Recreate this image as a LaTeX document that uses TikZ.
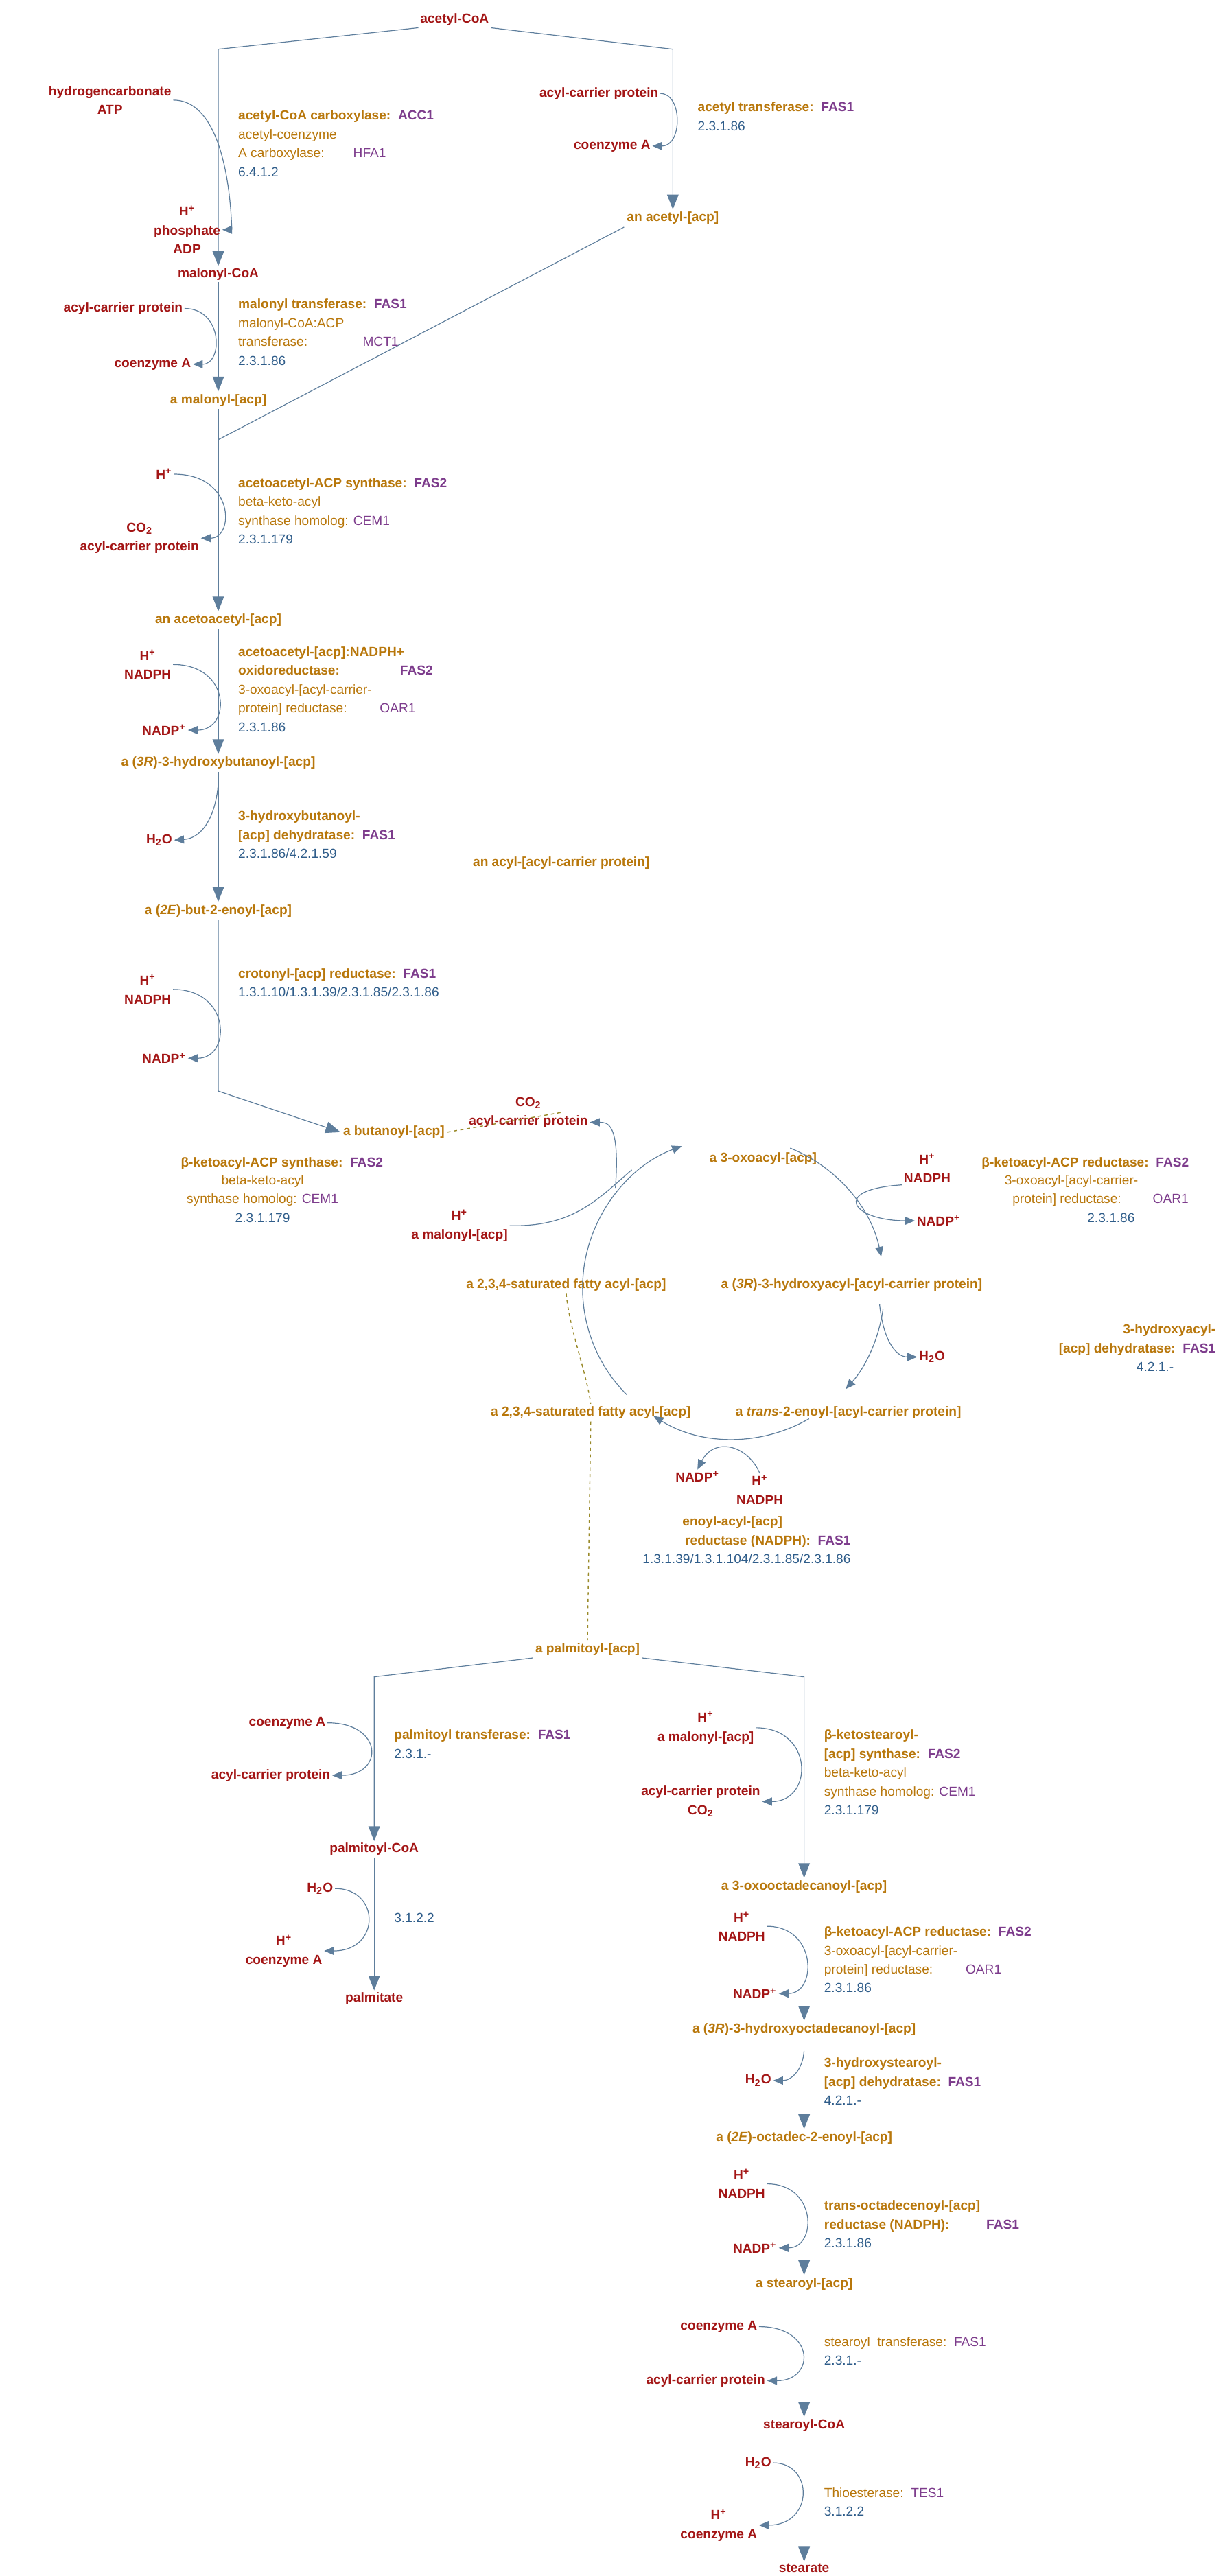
\documentclass[tikz,border=0pt]{standalone}
\usepackage{fontspec}
\setmainfont{Liberation Sans}
\usetikzlibrary{arrows.meta,calc}
\definecolor{cmpc}{HTML}{B8770B}
\definecolor{metc}{HTML}{A31515}
\definecolor{genc}{HTML}{7D3C8C}
\definecolor{ecc}{HTML}{2F5D8A}
\definecolor{linec}{HTML}{5E7E9C}
\definecolor{dashc}{HTML}{9A8A2A}
\newcommand\gn[1]{\textcolor{genc}{\textbf{#1}}}
\newcommand\gs[1]{\textcolor{genc}{#1}}
\newcommand\ec[1]{\textcolor{ecc}{#1}}
\newcommand\Hp{H\textsuperscript{+}}
\newcommand\sidec[3]{\draw[sarr] (#1.east) .. controls (#1.east -| #3,0) and (#2.east -| #3,0) .. (#2.east);}
\tikzset{
  every node/.style={font=\fontsize{8}{11.5}\selectfont},
  cmp/.style={font=\fontsize{8}{11.5}\selectfont\bfseries, text=cmpc, inner sep=1.5pt},
  met/.style={font=\fontsize{8}{11.5}\selectfont\bfseries, text=metc, align=center, inner sep=1pt},
  info/.style={anchor=north west, align=left, inner sep=0pt, text=cmpc},
  ln/.style={draw=linec, line width=0.5pt},
  marr/.style={ln, -{Triangle[length=9pt,width=7pt]}},
  sarr/.style={ln, -{Triangle[length=6pt,width=5pt]}},
  dsh/.style={draw=dashc, dashed, line width=0.6pt, dash pattern=on 2pt off 2pt}
}
\begin{document}
\begin{tikzpicture}[x=1pt,y=-1pt]
\useasboundingbox (0,0) rectangle (745,1570);
% upper column
\node[met] (acoa) at (277,12) {acetyl-CoA};
\node[met] (malcoa) at (133,167) {malonyl-CoA};
\node[cmp] (malacp) at (133,244) {a malonyl-[acp]};
\node[cmp] (aceacp) at (410,133) {an acetyl-[acp]};
\node[cmp] (aacacp) at (133,378) {an acetoacetyl-[acp]};
\node[cmp] (hbacp) at (133,465) {a (\textit{3R})-3-hydroxybutanoyl-[acp]};
\node[cmp] (beacp) at (133,555) {a (\textit{2E})-but-2-enoyl-[acp]};
\node[cmp] (buacp) at (240,690) {a butanoyl-[acp]};
\node[cmp] (acyl) at (342,526) {an acyl-[acyl-carrier protein]};
\draw[marr] (acoa.south west) -- (133,30) -- (malcoa.north);
\draw[marr] (acoa.south east) -- (410,30) -- (aceacp.north);
\draw[marr] (malcoa) -- (malacp);
\draw[ln] (aceacp.south west) -- (133,268);
\draw[marr] (malacp) -- (aacacp);
\draw[marr] (aacacp) -- (hbacp);
\draw[marr] (hbacp) -- (beacp);
\draw[marr] (beacp) -- (133,665) -- (buacp.west);
% side compounds, upper column
\node[met] (hco) at (67,61) {hydrogencarbonate\\ATP};
\node[met] (adp) at (114,140) {\Hp\\phosphate\\ADP};
\sidec{hco}{adp}{141}
\node[met] (acp1) at (365,57) {acyl-carrier protein};
\node[met] (coa1) at (373,89) {coenzyme A};
\sidec{acp1}{coa1}{416}
\node[met] (acp2) at (75,188) {acyl-carrier protein};
\node[met] (coa2) at (93,222) {coenzyme A};
\sidec{acp2}{coa2}{136}
\node[met] (h3) at (100,289) {\Hp};
\node[met] (co3) at (85,328) {CO\textsubscript{2}\\acyl-carrier protein};
\sidec{h3}{co3}{143}
\node[met] (nh4) at (90,405) {\Hp\\NADPH};
\node[met] (np4) at (100,445) {NADP\textsuperscript{+}};
\sidec{nh4}{np4}{141}
\node[met] (w5) at (97,512) {H\textsubscript{2}O};
\draw[sarr] (133,478) .. controls (131,500) and (122,511) .. (w5.east);
\node[met] (nh6) at (90,603) {\Hp\\NADPH};
\node[met] (np6) at (100,645) {NADP\textsuperscript{+}};
\sidec{nh6}{np6}{141}
% enzyme labels, upper column
\node[info] (e1) at (145,67) {\textbf{acetyl-CoA carboxylase:\ \ \gn{ACC1}}\\acetyl-coenzyme\\A carboxylase:\hspace{2.2em}\gs{HFA1}\\\ec{6.4.1.2}};
\node[info] (e2) at (425,62) {\textbf{acetyl transferase:\ \ \gn{FAS1}}\\\ec{2.3.1.86}};
\node[info] (e3) at (145,182) {\textbf{malonyl transferase:\ \ \gn{FAS1}}\\malonyl-CoA:ACP\\transferase:\hspace{4.2em}\gs{MCT1}\\\ec{2.3.1.86}};
\node[info] (e4) at (145,291) {\textbf{acetoacetyl-ACP synthase:\ \ \gn{FAS2}}\\beta-keto-acyl\\synthase homolog: \gs{CEM1}\\\ec{2.3.1.179}};
\node[info] (e5) at (145,394) {\textbf{acetoacetyl-[acp]:NADPH+}\\\textbf{oxidoreductase:}\hspace{4.6em}\gn{FAS2}\\3-oxoacyl-[acyl-carrier-\\protein] reductase:\hspace{2.5em}\gs{OAR1}\\\ec{2.3.1.86}};
\node[info] (e6) at (145,494) {\textbf{3-hydroxybutanoyl-}\\\textbf{[acp] dehydratase:\ \ \gn{FAS1}}\\\ec{2.3.1.86/4.2.1.59}};
\node[info] (e7) at (145,590) {\textbf{crotonyl-[acp] reductase:\ \ \gn{FAS1}}\\\ec{1.3.1.10/1.3.1.39/2.3.1.85/2.3.1.86}};
% cycle
\coordinate (cc) at (447,785);
\node[cmp] (oxo) at (465,706) {a 3-oxoacyl-[acp]};
\node[cmp] (hya) at (519,783) {a (\textit{3R})-3-hydroxyacyl-[acyl-carrier protein]};
\node[cmp] (tre) at (517,861) {a \textit{trans}-2-enoyl-[acyl-carrier protein]};
\node[cmp] (sat2) at (360,861) {a 2,3,4-saturated fatty acyl-[acp]};
\node[cmp] (sat1) at (345,783) {a 2,3,4-saturated fatty acyl-[acp]};
\draw[sarr] ($(cc)+(-68:92)$) arc[start angle=-68,end angle=-12,radius=92];
\draw[sarr] ($(cc)+(8:92)$) arc[start angle=8,end angle=42,radius=92];
\draw[sarr] ($(cc)+(60:92)$) arc[start angle=60,end angle=122,radius=92];
\draw[sarr] ($(cc)+(135:92)$) arc[start angle=135,end angle=250,radius=92];
\node[met] (co9) at (322,678) {CO\textsubscript{2}\\acyl-carrier protein};
\node[met] (mal9) at (280,747) {\Hp\\a malonyl-[acp]};
\draw[ln] (mal9.east) .. controls (350,748) and (365,730) .. (385,713);
\draw[sarr] (375,724) .. controls (378,684) and (370,684) .. (co9.east |- 0,684);
\node[met] (nh10) at (565,712) {\Hp\\NADPH};
\node[met] (np10) at (572,744) {NADP\textsuperscript{+}};
\draw[sarr] (nh10.south west) .. controls (505,725) and (520,744) .. (np10.west);
\node[met] (w11) at (568,827) {H\textsubscript{2}O};
\draw[sarr] (536,795) .. controls (538,815) and (545,827) .. (w11.west);
\node[met] (np12) at (425,900) {NADP\textsuperscript{+}};
\node[met] (nh12) at (463,908) {\Hp\\NADPH};
\draw[sarr] (nh12.north) .. controls (455,880) and (435,876) .. (np12.north);
\node[info] (e8) at (110,705) {\textbf{β-ketoacyl-ACP synthase:\ \ \gn{FAS2}}};
\node[info,align=center,anchor=north] (e8b) at (160,716) {beta-keto-acyl\\synthase homolog: \gs{CEM1}\\\ec{2.3.1.179}};
\node[info] (e9) at (598,705) {\textbf{β-ketoacyl-ACP reductase:\ \ \gn{FAS2}}};
\node[info] (e9b) at (612,716) {3-oxoacyl-[acyl-carrier-\\\hspace*{0.6em}protein] reductase:\hspace{2.4em}\gs{OAR1}\\\hspace*{6.3em}\ec{2.3.1.86}};
\node[info,align=right,anchor=north east] (e10) at (741,807) {\textbf{3-hydroxyacyl-}\\\textbf{[acp] dehydratase:\ \ \gn{FAS1}}\\\ec{4.2.1.-}\hspace*{3.2em}};
\node[info,align=right,anchor=north] (e11) at (455,924) {\textbf{enoyl-acyl-[acp]}\hspace*{5.2em}\\\textbf{reductase (NADPH):\ \ \gn{FAS1}}\hspace*{2.8em}\\\ec{1.3.1.39/1.3.1.104/2.3.1.85/2.3.1.86}};
% dashed links
\draw[dsh] (acyl.south) -- (sat1.north -| acyl.south);
\draw[dsh] (buacp.east) -- (342,678);
\draw[dsh] (sat1.south) .. controls (347,810) and (357,835) .. (sat2.north);
% lower part
\node[cmp] (palacp) at (358,1005) {a palmitoyl-[acp]};
\draw[dsh] (sat2.south) -- (palacp.north);
\node[met] (palcoa) at (228,1127) {palmitoyl-CoA};
\node[met] (palm) at (228,1218) {palmitate};
\node[cmp] (oxd) at (490,1150) {a 3-oxooctadecanoyl-[acp]};
\node[cmp] (hod) at (490,1237) {a (\textit{3R})-3-hydroxyoctadecanoyl-[acp]};
\node[cmp] (ode) at (490,1303) {a (\textit{2E})-octadec-2-enoyl-[acp]};
\node[cmp] (stacp) at (490,1392) {a stearoyl-[acp]};
\node[met] (stcoa) at (490,1478) {stearoyl-CoA};
\node[met] (stea) at (490,1565) {stearate};
\draw[marr] (palacp.south west) -- (228,1022) -- (palcoa.north);
\draw[marr] (palacp.south east) -- (490,1022) -- (oxd.north);
\draw[marr] (palcoa) -- (palm);
\draw[marr] (oxd) -- (hod);
\draw[marr] (hod) -- (ode);
\draw[marr] (ode) -- (stacp);
\draw[marr] (stacp) -- (stcoa);
\draw[marr] (stcoa) -- (stea);
\node[met] (coa13) at (175,1050) {coenzyme A};
\node[met] (acp13) at (165,1082) {acyl-carrier protein};
\sidec{coa13}{acp13}{234}
\node[met] (w14) at (195,1151) {H\textsubscript{2}O};
\node[met] (coa14) at (173,1189) {\Hp\\coenzyme A};
\sidec{w14}{coa14}{232}
\node[met] (mal15) at (430,1053) {\Hp\\a malonyl-[acp]};
\node[met] (acp15) at (427,1098) {acyl-carrier protein\\CO\textsubscript{2}};
\sidec{mal15}{acp15}{496}
\node[met] (nh16) at (452,1174) {\Hp\\NADPH};
\node[met] (np16) at (460,1215) {NADP\textsuperscript{+}};
\sidec{nh16}{np16}{498}
\node[met] (w17) at (462,1268) {H\textsubscript{2}O};
\draw[sarr] (490,1250) .. controls (489,1262) and (482,1268) .. (w17.east);
\node[met] (nh18) at (452,1331) {\Hp\\NADPH};
\node[met] (np18) at (460,1370) {NADP\textsuperscript{+}};
\sidec{nh18}{np18}{498}
\node[met] (coa19) at (438,1418) {coenzyme A};
\node[met] (acp19) at (430,1451) {acyl-carrier protein};
\sidec{coa19}{acp19}{497}
\node[met] (w20) at (462,1501) {H\textsubscript{2}O};
\node[met] (coa20) at (438,1539) {\Hp\\coenzyme A};
\sidec{w20}{coa20}{496}
\node[info] (e12) at (240,1054) {\textbf{palmitoyl transferase:\ \ \gn{FAS1}}\\\ec{2.3.1.-}};
\node[info] (e13) at (240,1166) {\ec{3.1.2.2}};
\node[info] (e14) at (502,1054) {\textbf{β-ketostearoyl-}\\\textbf{[acp] synthase:\ \ \gn{FAS2}}\\beta-keto-acyl\\synthase homolog: \gs{CEM1}\\\ec{2.3.1.179}};
\node[info] (e15) at (502,1174) {\textbf{β-ketoacyl-ACP reductase:\ \ \gn{FAS2}}\\3-oxoacyl-[acyl-carrier-\\protein] reductase:\hspace{2.5em}\gs{OAR1}\\\ec{2.3.1.86}};
\node[info] (e16) at (502,1254) {\textbf{3-hydroxystearoyl-}\\\textbf{[acp] dehydratase:\ \ \gn{FAS1}}\\\ec{4.2.1.-}};
\node[info] (e17) at (502,1341) {\textbf{trans-octadecenoyl-[acp]}\\\textbf{reductase (NADPH):}\hspace{2.8em}\gn{FAS1}\\\ec{2.3.1.86}};
\node[info] (e18) at (502,1424) {stearoyl\ \ transferase:\ \ \gs{FAS1}\\\ec{2.3.1.-}};
\node[info] (e19) at (502,1516) {Thioesterase:\ \ \gs{TES1}\\\ec{3.1.2.2}};
\end{tikzpicture}
\end{document}
